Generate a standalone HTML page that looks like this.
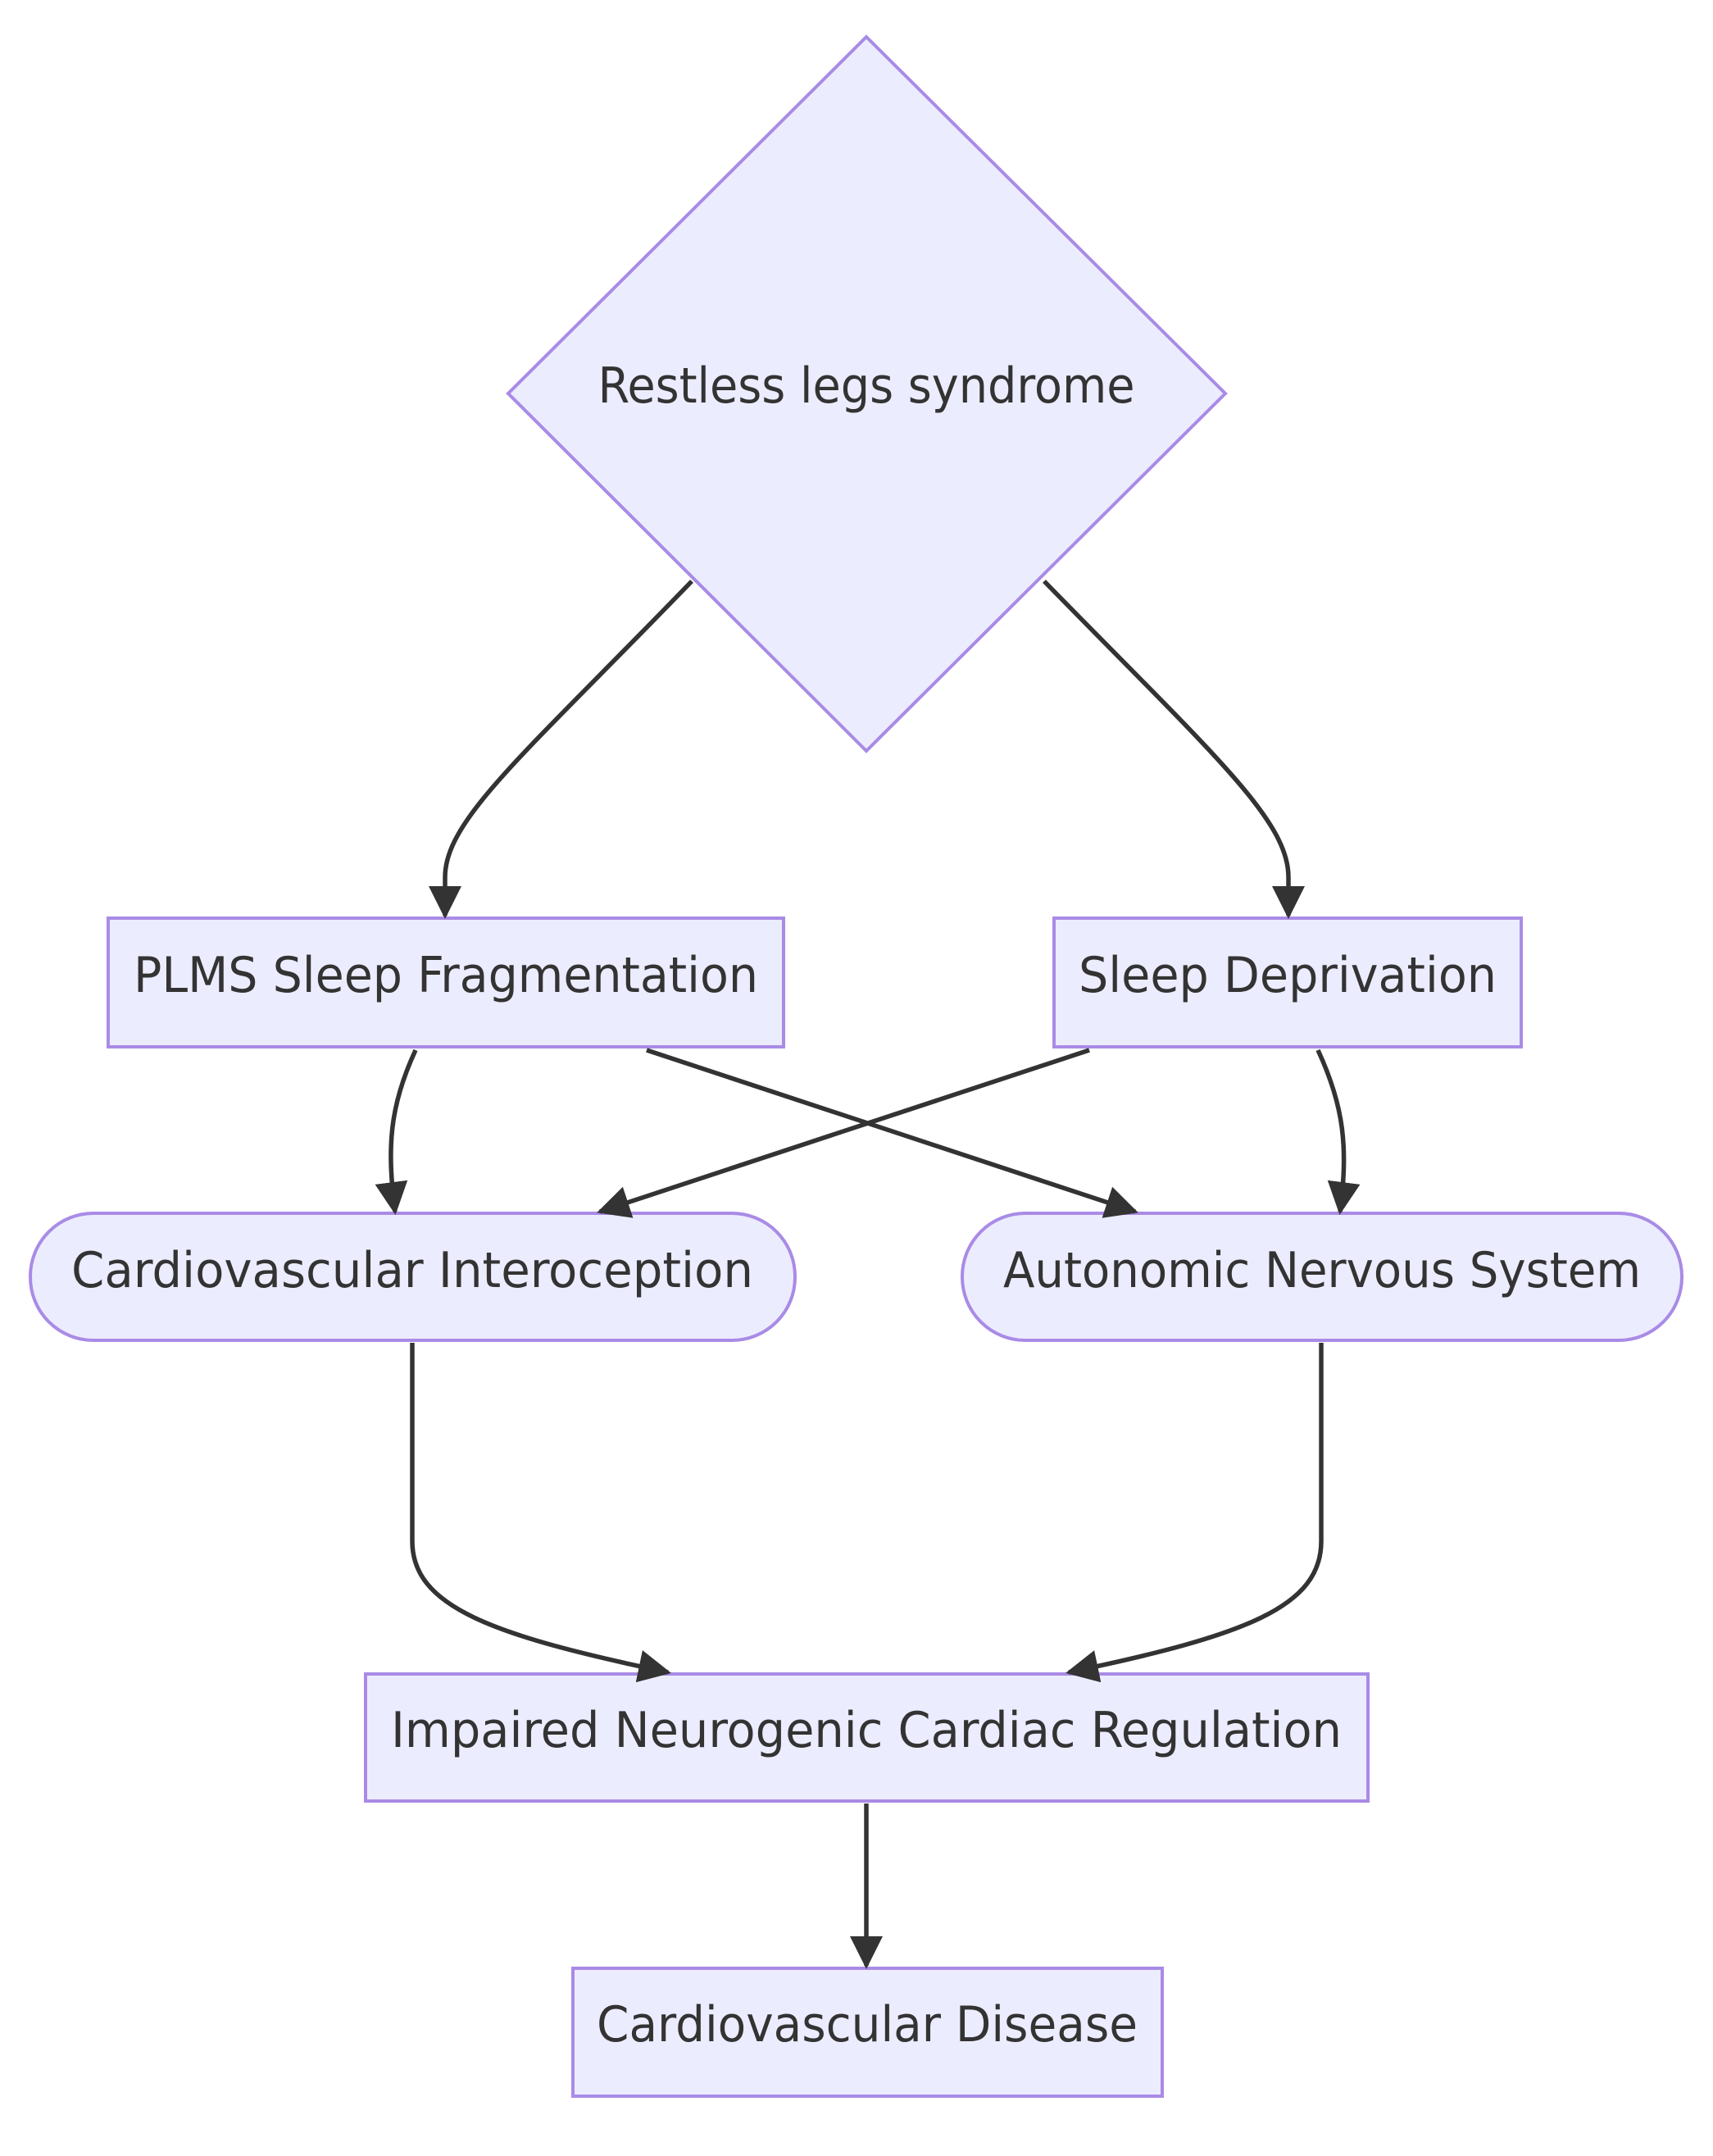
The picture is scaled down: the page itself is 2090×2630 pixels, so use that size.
<!DOCTYPE html>
<html><head><meta charset="utf-8"><style>
html,body{margin:0;padding:0;background:#fff;}
svg{display:block;}
text{font-family:"DejaVu Sans Condensed","Liberation Sans",sans-serif;font-size:60px;fill:#333;text-anchor:middle;dominant-baseline:central;}
</style></head><body>
<svg width="2090" height="2630" viewBox="0 0 2090 2630" xmlns="http://www.w3.org/2000/svg">
<defs>
<marker id="a" markerUnits="userSpaceOnUse" markerWidth="40" markerHeight="40" viewBox="0 0 10 10" refX="9" refY="5" orient="auto">
<path d="M0,0 L10,5 L0,10 z" fill="#333"/>
</marker>
</defs>
<g fill="#ECECFF" stroke="#A98BE6" stroke-width="4">
<polygon points="1057,45 1495,480 1057,916 620,480"/>
<rect x="132" y="1120" width="824" height="157"/>
<rect x="1286" y="1120" width="570" height="157"/>
<rect x="37" y="1480" width="933" height="155" rx="77" ry="77"/>
<rect x="1174" y="1480" width="878" height="155" rx="77" ry="77"/>
<rect x="446" y="2042" width="1223" height="155"/>
<rect x="699" y="2401" width="719" height="156"/>
</g>
<g fill="none" stroke="#333" stroke-width="5.5" marker-end="url(#a)">
<path d="M844,709 C640,920 543,1000 543,1070 L543,1117"/>
<path d="M1274,709 C1480,920 1572,1000 1572,1070 L1572,1117"/>
<path d="M507,1281 C475,1350 472,1400 482,1478"/>
<path d="M789,1281 L1385,1478"/>
<path d="M1329,1281 L732,1478"/>
<path d="M1608,1281 C1640,1350 1645,1400 1635,1478"/>
<path d="M503,1638 L503,1880 C503,1960 600,1995 815,2040"/>
<path d="M1612,1638 L1612,1880 C1612,1960 1520,1995 1304,2040"/>
<path d="M1057,2200 L1057,2398"/>
</g>
<text x="1057" y="471" textLength="655" lengthAdjust="spacingAndGlyphs">Restless legs syndrome</text>
<text x="544" y="1190" textLength="762" lengthAdjust="spacingAndGlyphs">PLMS Sleep Fragmentation</text>
<text x="1571" y="1190" textLength="510" lengthAdjust="spacingAndGlyphs">Sleep Deprivation</text>
<text x="503" y="1550" textLength="832" lengthAdjust="spacingAndGlyphs">Cardiovascular Interoception</text>
<text x="1613" y="1550" textLength="778" lengthAdjust="spacingAndGlyphs">Autonomic Nervous System</text>
<text x="1057" y="2111" textLength="1160" lengthAdjust="spacingAndGlyphs">Impaired Neurogenic Cardiac Regulation</text>
<text x="1058" y="2470" textLength="660" lengthAdjust="spacingAndGlyphs">Cardiovascular Disease</text>
</svg>
</body></html>
